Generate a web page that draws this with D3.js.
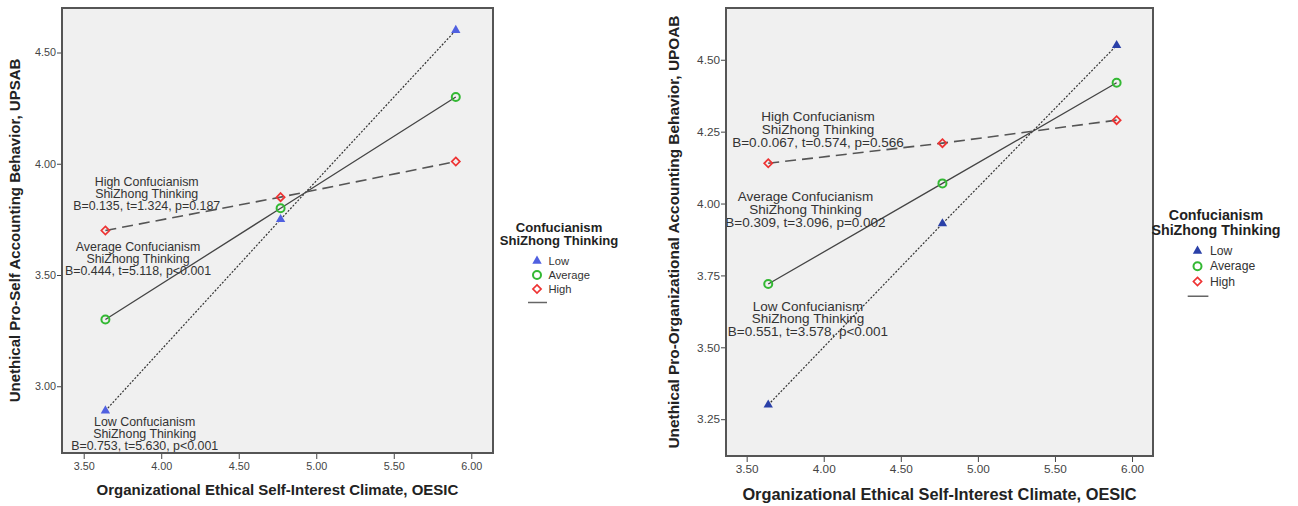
<!DOCTYPE html>
<html>
<head>
<meta charset="utf-8">
<script src="https://cdn.jsdelivr.net/npm/d3@7"></script>
<style>
  body { margin: 0; background: #fff; }
  svg { display: block; font-family: "Liberation Sans", Arial, sans-serif; }
</style>
</head>
<body>
<div id="chart"></div>
<script>
const width = 1298;
const height = 506;

// moderator levels and x positions (OESIC: -1 SD, mean, +1 SD)
const groups = ['Low', 'Average', 'High'];
const oesicLevels = [3.64, 4.77, 5.90];
const xTicks = [3.50, 4.00, 4.50, 5.00, 5.50, 6.00];

// left panel: UPSAB
const upsabLow = [2.89, 3.75, 4.60];
const upsabAverage = [3.30, 3.80, 4.30];
const upsabHigh = [3.70, 3.85, 4.01];
const upsabTicks = [3.00, 3.50, 4.00, 4.50];
const upsabNotes = [
    ['High Confucianism', 'ShiZhong Thinking', 'B=0.135, t=1.324, p=0.187'],
    ['Average Confucianism', 'ShiZhong Thinking', 'B=0.444, t=5.118, p<0.001'],
    ['Low Confucianism', 'ShiZhong Thinking', 'B=0.753, t=5.630, p<0.001'],
];

// right panel: UPOAB
const upoabLow = [3.30, 3.93, 4.55];
const upoabAverage = [3.72, 4.07, 4.42];
const upoabHigh = [4.14, 4.21, 4.29];
const upoabTicks = [3.25, 3.50, 3.75, 4.00, 4.25, 4.50];
const upoabNotes = [
    ['High Confucianism', 'ShiZhong Thinking', 'B=0.0.067, t=0.574, p=0.566'],
    ['Average Confucianism', 'ShiZhong Thinking', 'B=0.309, t=3.096, p=0.002'],
    ['Low Confucianism', 'ShiZhong Thinking', 'B=0.551, t=3.578, p<0.001'],
];

const xTitle = 'Organizational Ethical Self-Interest Climate, OESIC';
const legendTitle = ['Confucianism', 'ShiZhong Thinking'];

const svg = d3.select('#chart')
    .append('svg')
    .attr('width', width)
    .attr('height', height);

function drawPanel(cfg) {
    const g = svg.append('g').attr('transform', `translate(${cfg.left},${cfg.top})`);
    const k = cfg.scale;

    const x = d3.scaleLinear().domain(cfg.xDomain).range([0, cfg.w]);
    const y = d3.scaleLinear().domain(cfg.yDomain).range([cfg.h, 0]);

    g.append('rect')
        .attr('width', cfg.w)
        .attr('height', cfg.h)
        .attr('fill', '#f0f0f0');

    const yAxis = g.append('g')
        .call(d3.axisLeft(y).tickValues(cfg.yTicks).tickFormat(d3.format('.2f')).tickSize(5).tickPadding(1));
    const xAxis = g.append('g')
        .attr('transform', `translate(0,${cfg.h})`)
        .call(d3.axisBottom(x).tickValues(xTicks).tickFormat(d3.format('.2f')).tickSize(6).tickPadding(3));

    [xAxis, yAxis].forEach(a => {
        a.select('.domain').remove();
        a.selectAll('line').attr('stroke', '#444');
        a.selectAll('text')
            .attr('fill', '#444')
            .attr('font-family', '"Liberation Sans", Arial, sans-serif')
            .attr('font-size', 10.8 * k);
    });

    const series = [
        { name: 'Low', values: cfg.low, dash: '2,1.6', width: 1.2, color: '#333' },
        { name: 'Average', values: cfg.average, dash: null, width: 1.3, color: '#444' },
        { name: 'High', values: cfg.high, dash: '11,6', width: 1.6, color: '#555' },
    ];

    const line = d3.line()
        .x((d, i) => x(oesicLevels[i]))
        .y(d => y(d));

    g.selectAll('path.series')
        .data(series)
        .join('path')
        .attr('class', 'series')
        .attr('d', d => line(d.values))
        .attr('fill', 'none')
        .attr('stroke', d => d.color)
        .attr('stroke-width', d => d.width)
        .attr('stroke-dasharray', d => d.dash);

    series.forEach(s => {
        const pts = g.append('g').selectAll('g')
            .data(s.values)
            .join('g')
            .attr('transform', (d, i) => `translate(${x(oesicLevels[i])},${y(d)})`);
        drawMarker(pts, s.name, cfg);
    });

    // annotation labels
    cfg.notes.forEach((lines, j) => {
        const pos = cfg.notePos[j];
        g.append('text')
            .attr('x', pos[0])
            .attr('y', pos[1])
            .attr('text-anchor', 'middle')
            .attr('fill', '#333')
            .attr('font-size', 12.4 * k)
            .selectAll('tspan')
            .data(lines)
            .join('tspan')
            .attr('x', pos[0])
            .attr('dy', (d, i) => i === 0 ? 0 : 11.8 * k)
            .text(d => d);
    });

    g.append('rect')
        .attr('width', cfg.w)
        .attr('height', cfg.h)
        .attr('fill', 'none')
        .attr('stroke', '#555')
        .attr('stroke-width', 2);

    // axis titles
    g.append('text')
        .attr('x', cfg.w / 2)
        .attr('y', cfg.h + cfg.xTitleGap)
        .attr('text-anchor', 'middle')
        .attr('font-weight', 'bold')
        .attr('font-size', 15 * k)
        .attr('fill', '#222')
        .text(xTitle);

    g.append('text')
        .attr('transform', `translate(${cfg.yTitleX},${cfg.h / 2}) rotate(-90)`)
        .attr('text-anchor', 'middle')
        .attr('font-weight', 'bold')
        .attr('font-size', cfg.yTitleSize)
        .attr('fill', '#222')
        .text(cfg.yTitle);

    // legend
    const lg = svg.append('g').attr('transform', `translate(${cfg.legendX},${cfg.legendY})`);
    lg.append('text')
        .attr('text-anchor', 'middle')
        .attr('font-weight', 'bold')
        .attr('font-size', 13.1 * k)
        .attr('fill', '#222')
        .selectAll('tspan')
        .data(legendTitle)
        .join('tspan')
        .attr('x', 0)
        .attr('dy', (d, i) => i === 0 ? 0 : 13.4 * k)
        .text(d => d);

    groups.forEach((name, i) => {
        const row = lg.append('g')
            .attr('transform', `translate(${cfg.legendMarkX},${cfg.legendRow0 + i * 14 * k})`);
        drawMarker(row, name, cfg);
        row.append('text')
            .attr('x', 11.5 * k)
            .attr('y', 4)
            .attr('font-size', 11.2 * k)
            .attr('fill', '#333')
            .text(name);
    });

    lg.append('line')
        .attr('x1', cfg.legendMarkX - 9 * k)
        .attr('x2', cfg.legendMarkX + 10 * k)
        .attr('y1', cfg.legendRow0 + 41.5 * k)
        .attr('y2', cfg.legendRow0 + 41.5 * k)
        .attr('stroke', '#666')
        .attr('stroke-width', 1.5);
}

function drawMarker(sel, name, cfg) {
    if (name === 'Low') {
        sel.append('path')
            .attr('d', d3.symbol(d3.symbolTriangle, 38))
            .attr('fill', cfg.blue);
    } else if (name === 'Average') {
        sel.append('circle')
            .attr('r', 4)
            .attr('fill', 'none')
            .attr('stroke', '#33b833')
            .attr('stroke-width', 2);
    } else {
        sel.append('path')
            .attr('d', d3.symbol(d3.symbolDiamond2, 42))
            .attr('fill', 'none')
            .attr('stroke', '#ee3333')
            .attr('stroke-width', 1.7);
    }
}

drawPanel({
    left: 62, top: 8, w: 431, h: 445,
    xDomain: [3.36, 6.14], yDomain: [2.70, 4.70],
    low: upsabLow, average: upsabAverage, high: upsabHigh,
    yTicks: upsabTicks, notes: upsabNotes,
    notePos: [[84.7, 178], [76, 243], [82.7, 418]],
    yTitle: 'Unethical Pro-Self Accounting Behavior, UPSAB',
    yTitleX: -42, yTitleSize: 15, xTitleGap: 42,
    legendX: 559, legendY: 232, legendMarkX: -22, legendRow0: 29,
    blue: '#5060e0', scale: 1,
});

drawPanel({
    left: 726, top: 8, w: 427, h: 448,
    xDomain: [3.366, 6.136], yDomain: [3.122, 4.68],
    low: upoabLow, average: upoabAverage, high: upoabHigh,
    yTicks: upoabTicks, notes: upoabNotes,
    notePos: [[92, 113], [79.5, 193], [82, 302.5]],
    yTitle: 'Unethical Pro-Organizational Accounting Behavior, UPOAB',
    yTitleX: -47, yTitleSize: 15.4, xTitleGap: 44,
    legendX: 1216, legendY: 220, legendMarkX: -18.5, legendRow0: 31,
    blue: '#2a40a8', scale: 1.09,
});
</script>
</body>
</html>
